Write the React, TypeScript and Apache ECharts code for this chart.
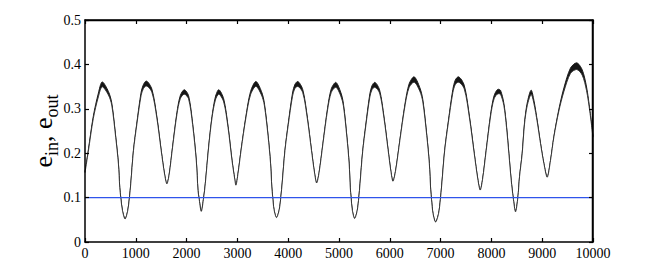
import React, { useEffect, useRef } from "react";
import * as echarts from "echarts";

// Time samples (x axis)
const timeSteps = [
  0, 66, 164, 263, 340, 461, 526, 605, 658, 684, 704, 737, 789, 842, 875, 901, 954, 1020, 1105, 1150,
  1204, 1316, 1414, 1500, 1566, 1612, 1658, 1724, 1809, 1875, 1954, 2039, 2118, 2191, 2224, 2243, 2289,
  2336, 2368, 2434, 2500, 2566, 2632, 2730, 2816, 2895, 2947, 2970, 3013, 3076, 3167, 3258, 3364, 3474,
  3530, 3604, 3652, 3677, 3693, 3721, 3770, 3824, 3857, 3882, 3936, 4002, 4085, 4130, 4184, 4286, 4376,
  4458, 4519, 4560, 4609, 4683, 4777, 4848, 4934, 5035, 5087, 5155, 5200, 5222, 5237, 5263, 5308, 5359,
  5391, 5414, 5466, 5529, 5607, 5651, 5702, 5799, 5886, 5965, 6022, 6062, 6116, 6198, 6302, 6380, 6475,
  6590, 6650, 6727, 6778, 6804, 6821, 6851, 6902, 6960, 6996, 7022, 7080, 7152, 7241, 7290, 7348, 7465,
  7568, 7663, 7732, 7780, 7826, 7897, 7985, 8053, 8134, 8180, 8245, 8298, 8344, 8390, 8429, 8475, 8521,
  8554, 8606, 8652, 8705, 8783, 8836, 8902, 8967, 9033, 9098, 9164, 9230, 9328, 9427, 9558, 9676, 9787,
  9873, 9938, 10000,
];

// Centre of the eccentricity curve
const eMid = [
  0.157, 0.206, 0.281, 0.331, 0.355, 0.335, 0.311, 0.236, 0.176, 0.123, 0.1, 0.071, 0.052, 0.071, 0.1, 0.131,
  0.206, 0.266, 0.334, 0.35, 0.357, 0.341, 0.281, 0.206, 0.153, 0.131, 0.153, 0.214, 0.289, 0.326, 0.338,
  0.326, 0.266, 0.183, 0.116, 0.1, 0.069, 0.1, 0.131, 0.214, 0.281, 0.323, 0.338, 0.319, 0.259, 0.183, 0.142,
  0.128, 0.155, 0.21, 0.281, 0.335, 0.356, 0.335, 0.311, 0.239, 0.178, 0.124, 0.103, 0.073, 0.055, 0.073,
  0.103, 0.133, 0.206, 0.266, 0.332, 0.35, 0.356, 0.34, 0.28, 0.207, 0.155, 0.133, 0.157, 0.221, 0.301,
  0.341, 0.354, 0.333, 0.309, 0.237, 0.176, 0.122, 0.101, 0.071, 0.053, 0.071, 0.101, 0.131, 0.204, 0.264,
  0.33, 0.348, 0.354, 0.339, 0.28, 0.209, 0.159, 0.137, 0.162, 0.229, 0.311, 0.352, 0.366, 0.344, 0.318,
  0.241, 0.177, 0.119, 0.096, 0.064, 0.045, 0.064, 0.096, 0.128, 0.206, 0.27, 0.34, 0.36, 0.366, 0.349,
  0.281, 0.199, 0.142, 0.117, 0.141, 0.206, 0.286, 0.326, 0.339, 0.337, 0.31, 0.259, 0.199, 0.139, 0.1,
  0.068, 0.1, 0.147, 0.199, 0.267, 0.31, 0.337, 0.316, 0.272, 0.222, 0.177, 0.146, 0.184, 0.237, 0.297,
  0.343, 0.386, 0.396, 0.382, 0.345, 0.295, 0.237,
];

// Width of the fast-oscillation band around the curve
const eSpread = [
  0.002, 0.003, 0.005, 0.008, 0.011, 0.008, 0.005, 0.002, 0.001, 0, 0, 0, 0, 0, 0, 0, 0.001, 0.003,
  0.007, 0.009, 0.011, 0.007, 0.003, 0.001, 0, 0, 0, 0.001, 0.004, 0.007, 0.01, 0.007, 0.003, 0.001,
  0, 0, 0, 0, 0, 0.001, 0.003, 0.007, 0.01, 0.007, 0.003, 0.001, 0, 0, 0, 0.001, 0.003,
  0.007, 0.011, 0.008, 0.005, 0.002, 0.001, 0, 0, 0, 0, 0, 0, 0, 0.001, 0.003, 0.007, 0.009, 0.011,
  0.007, 0.003, 0.001, 0, 0, 0, 0.001, 0.004, 0.008, 0.011, 0.008, 0.005, 0.002, 0.001, 0, 0, 0,
  0, 0, 0, 0, 0.001, 0.003, 0.007, 0.009, 0.011, 0.007, 0.003, 0.001, 0, 0, 0, 0.001, 0.004,
  0.008, 0.012, 0.008, 0.005, 0.002, 0.001, 0, 0, 0, 0, 0, 0, 0, 0.001, 0.003, 0.007, 0.01, 0.012,
  0.008, 0.003, 0.001, 0, 0, 0, 0.001, 0.004, 0.007, 0.01, 0.009, 0.005, 0.003, 0.001, 0, 0, 0,
  0, 0, 0.001, 0.003, 0.006, 0.01, 0.007, 0.003, 0.001, 0, 0, 0, 0.001, 0.004, 0.008, 0.012,
  0.015, 0.012, 0.008, 0.004, 0.002,
];

// Horizontal reference line at e = 0.1
const limitX = [0, 10000];
const limitE = [0.1, 0.1];

const X_MIN = 0;
const X_MAX = 10000;
const X_STEP = 1000;
const Y_MIN = 0;
const Y_MAX = 0.5;
const Y_STEP = 0.1;

const FONT = "Liberation Serif, Times New Roman, serif";

const GRID = { left: 85, right: 61, top: 20, bottom: 30 };
const W = 654;
const H = 272;

const mkLine = () => ({ show: true, onZero: false, lineStyle: { color: "#000", width: 1.5 } });
const mkTick = () => ({ show: true, inside: true, length: 4, lineStyle: { color: "#000", width: 1.2 } });

export default function App() {
  const ref = useRef<HTMLDivElement>(null);

  useEffect(() => {
    if (!ref.current) return;
    const chart = echarts.init(ref.current, undefined, { renderer: "svg" });

    const upper = timeSteps.map((t, i) => [t, eMid[i] + eSpread[i] / 2]);
    const lower = timeSteps.map((t, i) => [t, eMid[i] - eSpread[i] / 2]);
    const limit = limitX.map((t, i) => [t, limitE[i]]);

    const plotW = W - GRID.left - GRID.right;
    const plotH = H - GRID.top - GRID.bottom;

    chart.setOption({
      animation: false,
      backgroundColor: "#ffffff",
      grid: { ...GRID, containLabel: false },
      graphic: [
        {
          type: "line",
          z: 100,
          silent: true,
          shape: { x1: GRID.left, y1: GRID.top + 0.5, x2: GRID.left + plotW, y2: GRID.top + 0.5 },
          style: { stroke: "#000", lineWidth: 1.5 },
        },
        {
          type: "line",
          z: 100,
          silent: true,
          shape: { x1: GRID.left + plotW - 0.5, y1: GRID.top, x2: GRID.left + plotW - 0.5, y2: GRID.top + plotH },
          style: { stroke: "#000", lineWidth: 1.5 },
        },
      ],
      xAxis: [
        {
          type: "value",
          position: "bottom",
          min: X_MIN,
          max: X_MAX,
          interval: X_STEP,
          z: 10,
          axisLine: mkLine(),
          axisTick: mkTick(),
          splitLine: { show: false },
          axisLabel: {
            color: "#000",
            fontFamily: FONT,
            fontSize: 14,
            margin: 4,
            formatter: (v: number) => String(v),
          },
        },
        {
          type: "value",
          position: "top",
          min: X_MIN,
          max: X_MAX,
          interval: X_STEP,
          z: 10,
          axisLine: mkLine(),
          axisTick: mkTick(),
          splitLine: { show: false },
          axisLabel: { show: false },
        },
      ],
      yAxis: [
        {
          type: "value",
          position: "left",
          min: Y_MIN,
          max: Y_MAX,
          interval: Y_STEP,
          z: 10,
          axisLine: mkLine(),
          axisTick: mkTick(),
          splitLine: { show: false },
          axisLabel: {
            color: "#000",
            fontFamily: FONT,
            fontSize: 14,
            margin: 4,
            formatter: (v: number) => String(Math.round(v * 10) / 10),
          },
          name: "{e|e}{s|in}{e|, e}{s|out}",
          nameLocation: "middle",
          nameRotate: 90,
          nameGap: 25,
          nameMoveOverlap: false,
          nameTextStyle: {
            fontFamily: FONT,
            color: "#000",
            rich: {
              e: { fontFamily: FONT, fontSize: 26, color: "#000", lineHeight: 30, verticalAlign: "top" },
              s: { fontFamily: FONT, fontSize: 18, color: "#000", lineHeight: 18, padding: [13, 0, 0, 0], verticalAlign: "top" },
            },
          },
        },
        {
          type: "value",
          position: "right",
          min: Y_MIN,
          max: Y_MAX,
          interval: Y_STEP,
          z: 10,
          axisLine: mkLine(),
          axisTick: mkTick(),
          splitLine: { show: false },
          axisLabel: { show: false },
        },
      ],
      series: [
        {
          name: "e upper",
          type: "line",
          data: upper,
          smooth: 0.3,
          showSymbol: false,
          symbol: "none",
          lineStyle: { color: "#1e1e1e", width: 1 },
          areaStyle: { color: "#151515", opacity: 1, origin: "start" },
          z: 2,
        },
        {
          name: "e lower",
          type: "line",
          data: lower,
          smooth: 0.3,
          showSymbol: false,
          symbol: "none",
          lineStyle: { color: "#2a2a2a", width: 0.9 },
          areaStyle: { color: "#ffffff", opacity: 1, origin: "start" },
          z: 3,
        },
        {
          name: "limit",
          type: "line",
          data: limit,
          showSymbol: false,
          symbol: "none",
          lineStyle: { color: "#2f54eb", width: 1.2 },
          z: 4,
        },
      ],
    });

    return () => chart.dispose();
  }, []);

  return (
    <div
      ref={ref}
      style={{ position: "fixed", left: 0, top: 0, width: W, height: H, background: "#fff" }}
    />
  );
}
